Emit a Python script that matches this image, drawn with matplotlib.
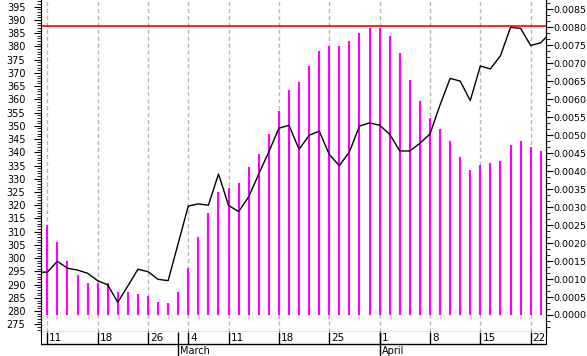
import numpy as np
import matplotlib
matplotlib.use("Agg")
import matplotlib.pyplot as plt
from matplotlib.ticker import MultipleLocator, AutoMinorLocator, FormatStrFormatter
from datetime import date

# trading days (first and last fall just outside the visible window)
dates = ["2002-02-08",
         "2002-02-11", "2002-02-12", "2002-02-13", "2002-02-14", "2002-02-15",
         "2002-02-18", "2002-02-19", "2002-02-20", "2002-02-21", "2002-02-22",
         "2002-02-26", "2002-02-27", "2002-02-28", "2002-03-01",
         "2002-03-04", "2002-03-05", "2002-03-06", "2002-03-07",
         "2002-03-11", "2002-03-12", "2002-03-13", "2002-03-14", "2002-03-15",
         "2002-03-18", "2002-03-19", "2002-03-20", "2002-03-21", "2002-03-22",
         "2002-03-25", "2002-03-26", "2002-03-27", "2002-03-28", "2002-03-29",
         "2002-04-01", "2002-04-02", "2002-04-03", "2002-04-04", "2002-04-05",
         "2002-04-08", "2002-04-09", "2002-04-10", "2002-04-11", "2002-04-12",
         "2002-04-15", "2002-04-16", "2002-04-17", "2002-04-18", "2002-04-19",
         "2002-04-22", "2002-04-23", "2002-04-24"]

price = [294.7, 294.7, 298.8, 296.2, 295.5, 294.3, 291.5, 289.9, 283.3, 289.5,
         295.8, 294.9, 292.0, 291.5, 305.6, 319.7, 320.5, 320.0, 331.8, 319.9,
         317.6, 323.2, 331.8, 340.2, 349.1, 350.2, 341.1, 346.4, 348.0, 339.2,
         334.9, 340.2, 349.9, 351.1, 350.2, 346.8, 340.5, 340.5, 343.4, 346.9,
         357.9, 367.9, 366.9, 359.5, 372.6, 371.5, 376.5, 387.2, 386.8, 380.3,
         381.4, 385.3]

ratio = [0.00280, 0.00250, 0.00203, 0.00150, 0.00111, 0.00090, 0.00090, 0.00090,
         0.00064, 0.00064, 0.00058, 0.00053, 0.00036, 0.00033, 0.00064, 0.00131,
         0.00218, 0.00285, 0.00342, 0.00353, 0.00367, 0.00412, 0.00448, 0.00503,
         0.00567, 0.00626, 0.00648, 0.00692, 0.00734, 0.00748, 0.00748, 0.00762,
         0.00784, 0.00798, 0.00798, 0.00776, 0.00729, 0.00654, 0.00595, 0.00548,
         0.00517, 0.00484, 0.00439, 0.00403, 0.00417, 0.00423, 0.00428, 0.00473,
         0.00484, 0.00467, 0.00456, 0.00450]

level = 387.7

days = [date.fromisoformat(d) for d in dates]
x = np.arange(len(days))
week_starts = [i for i in range(1, len(days)) if days[i].weekday() < days[i-1].weekday()]
month_starts = [i for i in range(1, len(days)) if days[i].month != days[i-1].month]

plt.rc("font", family="DejaVu Sans", size=7)
fig = plt.figure(figsize=(5.87, 3.56), dpi=100)
L, R = 40.7 / 587, 546 / 587
B = 24 / 356
ax = fig.add_axes([L, B, R - L, 1 - B])
ax2 = ax.twinx()
band = fig.add_axes([L, 0, R - L, B])
xlim = (0.345, 50.52)

# magenta bars, right scale
ax.vlines(x, 0, ratio, colors="#ff00ff", lw=1.5, zorder=2)
for w in week_starts:
    ax.axvline(w, color="#b8b8b8", lw=1, ls=(0, (3, 2)), zorder=1)
ax.set_xlim(*xlim)
ax.set_ylim(-0.000473, 0.00876)
ax.set_xticks([])
ax.set_yticks(np.arange(0, 0.0086, 0.0005))
ax.yaxis.set_major_formatter(FormatStrFormatter("%.4f"))
ax.yaxis.set_minor_locator(AutoMinorLocator(3))
ax.yaxis.tick_right()
ax.tick_params(axis="y", which="major", length=5, pad=0.5, labelsize=6.8)
ax.tick_params(axis="y", which="minor", length=3)
ax.spines["top"].set_visible(False)

# price line, left scale
ax2.plot(x, price, color="black", lw=1, zorder=3)
ax2.axhline(level, color="red", lw=1.2)
ax2.set_ylim(272.1, 397.53)
ax2.set_yticks(np.arange(275, 396, 5))
ax2.yaxis.set_minor_locator(MultipleLocator(1))
ax2.yaxis.tick_left()
ax2.tick_params(axis="y", which="major", length=5, pad=6, labelsize=7)
ax2.tick_params(axis="y", which="minor", length=3)
ax2.spines["top"].set_visible(False)

# date band under the plot
band.set_xlim(*xlim)
band.set_ylim(0, 1)
band.set_xticks([])
band.set_yticks([])
band.spines["top"].set_visible(False)
band.spines["bottom"].set_visible(False)
band.spines["left"].set_bounds(0.5, 1)
band.spines["right"].set_bounds(0.5, 1)
band.axhline(0.5, color="black", lw=1)
band.vlines(week_starts, 0.5, 1, colors="black", lw=1)
band.vlines(month_starts, 0, 1, colors="black", lw=1)
for w in week_starts:
    band.text(w + 0.2, 0.74, str(days[w].day), ha="left", va="center", fontsize=7.5)
for m in month_starts:
    band.text(m + 0.2, 0.22, days[m].strftime("%B"), ha="left", va="center", fontsize=7)

fig.savefig("out.png", dpi=100)
